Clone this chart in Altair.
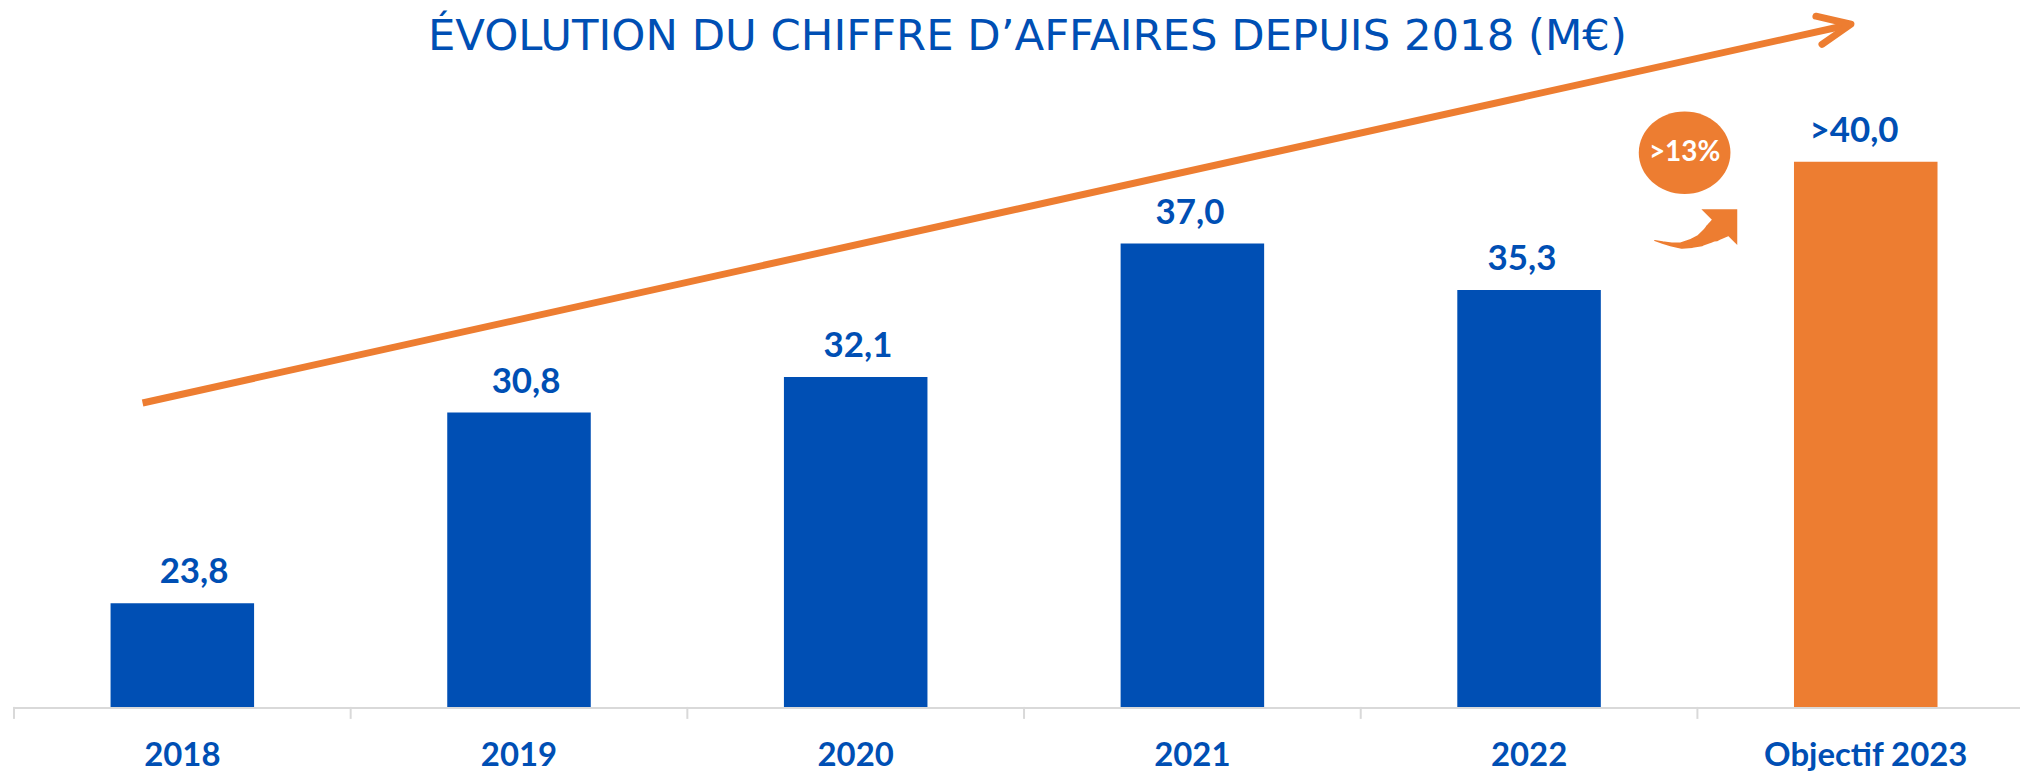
import altair as alt
import pandas as pd

# ---- data ----
years = ["2018", "2019", "2020", "2021", "2022", "Objectif 2023"]
values = [23.8, 30.8, 32.1, 37.0, 35.3, 40.0]
value_labels = ["23,8", "30,8", "32,1", "37,0", "35,3", ">40,0"]

# axis ticks sit between categories (category-index units)
tick_pos = [0, 1, 2, 3, 4, 5, 6]
axis_start = [0]
axis_end = [6.2]

# decorations, in (category index, M€) units
trend_x = [0.382, 5.44]
trend_y = [31.15, 45.0]
chevron_x = [5.352, 5.456, 5.370]
chevron_y = [45.34, 45.045, 44.31]
badge_x = [4.962]
badge_y = [40.33]
badge_text = [">13%"]
curve_x = [4.873, 4.896, 4.923, 4.953, 4.982, 5.009, 5.033, 5.050, 5.071]
curve_y = [37.111, 37.038, 36.965, 36.928, 37.002, 37.111, 37.294, 37.440, 37.623]
curve_w = [1, 2.5, 4, 6.5, 9, 12, 16, 20, 24]
head_x = [5.065]
head_y = [37.6]
title_x = [3.01]
TITLE = "ÉVOLUTION DU CHIFFRE D’AFFAIRES DEPUIS 2018 (M€)"

BLUE = "#004FB4"
ORANGE = "#ED7D31"
GREY = "#D9D9D9"

# ---- layout ----
STEP = 337.83          # px per category
PI = 0.5737            # band padding inner
PO = 0.245             # band padding outer
FIRST_TICK = 14        # page x of first tick
L_PAGE = FIRST_TICK + 0.5 * STEP - STEP * (PO + (1 - PI) / 2)
W = round(STEP * (6 - PI + 2 * PO), 2)
PAD_LEFT = round(L_PAGE - 8, 2)
D0 = (L_PAGE - FIRST_TICK) / STEP
D1 = D0 + W / STEP
H = 640
PAD_TOP = 60
TITLE_BASELINE_PAGE = 48.5

bars_df = pd.DataFrame({"year": years, "value": values, "label": value_labels,
                        "base": [20] * len(years)})
ticks_df = pd.DataFrame({"t": tick_pos})
axis_df = pd.DataFrame({"a": axis_start, "b": axis_end})
trend_df = pd.DataFrame({"x": trend_x, "y": trend_y})
chev_df = pd.DataFrame({"x": chevron_x, "y": chevron_y, "o": list(range(len(chevron_x)))})
badge_df = pd.DataFrame({"x": badge_x, "y": badge_y, "t": badge_text})
curve_df = pd.DataFrame({"x": curve_x, "y": curve_y, "w": curve_w})
head_df = pd.DataFrame({"x": head_x, "y": head_y})
title_df = pd.DataFrame({"x": title_x, "t": [TITLE]})

yscale = alt.Scale(domain=[20, 43.4], zero=False, nice=False)
band = alt.Scale(paddingInner=PI, paddingOuter=PO)
qx = alt.Scale(domain=[D0, D1], nice=False, zero=False)

bars = alt.Chart(bars_df).mark_bar().encode(
    x=alt.X("year:N", sort=years, scale=band, title=None,
            axis=alt.Axis(labelAngle=0, ticks=True, tickSize=12, tickOpacity=0,
                          domain=False,
                          labelFont="Lato", labelFontWeight="bold", labelFontSize=33,
                          labelColor=BLUE, labelBaseline="alphabetic", labelPadding=47,
                          labelLimit=0, grid=False)),
    y=alt.Y("value:Q", scale=yscale, axis=None),
    y2="base:Q",
    color=alt.condition(alt.datum.year == "Objectif 2023", alt.value(ORANGE), alt.value(BLUE)),
)

labels = alt.Chart(bars_df).mark_text(
    font="Lato", fontWeight="bold", fontSize=35, color=BLUE,
    baseline="alphabetic", dy=-20,
).encode(
    x=alt.X("year:N", sort=years, scale=band, axis=None),
    y=alt.Y("value:Q", scale=yscale, axis=None),
    text="label:N",
)

axis_line = alt.Chart(axis_df).mark_rule(color=GREY, strokeWidth=2).encode(
    x=alt.X("a:Q", scale=qx, axis=None),
    x2="b:Q",
    y=alt.value(H + 1),
)

ticks = alt.Chart(ticks_df).mark_rule(color=GREY, strokeWidth=2).encode(
    x=alt.X("t:Q", scale=qx, axis=None),
    y=alt.value(H),
    y2=alt.value(H + 12),
)

trend = alt.Chart(trend_df).mark_line(color=ORANGE, strokeWidth=7, strokeCap="butt").encode(
    x=alt.X("x:Q", scale=qx, axis=None),
    y=alt.Y("y:Q", scale=yscale, axis=None),
)

chevron = alt.Chart(chev_df).mark_line(color=ORANGE, strokeWidth=7, strokeCap="round",
                                       strokeJoin="round").encode(
    x=alt.X("x:Q", scale=qx, axis=None),
    y=alt.Y("y:Q", scale=yscale, axis=None),
    order="o:Q",
)

badge = alt.Chart(badge_df).mark_point(
    shape="M-1,0A1,0.9,0,1,1,1,0A1,0.9,0,1,1,-1,0Z",
    filled=True, color=ORANGE, opacity=1, size=8464, strokeWidth=0,
).encode(
    x=alt.X("x:Q", scale=qx, axis=None),
    y=alt.Y("y:Q", scale=yscale, axis=None),
)

badge_lbl = alt.Chart(badge_df).mark_text(
    font="Lato", fontWeight="bold", fontSize=28, color="white", baseline="middle",
).encode(
    x=alt.X("x:Q", scale=qx, axis=None),
    y=alt.Y("y:Q", scale=yscale, axis=None),
    text="t:N",
)

curve = alt.Chart(curve_df).mark_trail(color=ORANGE).encode(
    x=alt.X("x:Q", scale=qx, axis=None),
    y=alt.Y("y:Q", scale=yscale, axis=None),
    size=alt.Size("w:Q", scale=None, legend=None),
)

head = alt.Chart(head_df).mark_point(
    shape="M-1,-1L1,-1L1,1Z", filled=True, color=ORANGE, opacity=1, size=1296, strokeWidth=0,
).encode(
    x=alt.X("x:Q", scale=qx, axis=None),
    y=alt.Y("y:Q", scale=yscale, axis=None),
)

title = alt.Chart(title_df).mark_text(
    font="DejaVu Sans", fontSize=43.5, fontWeight="normal", color=BLUE,
    baseline="alphabetic", align="center",
).encode(
    x=alt.X("x:Q", scale=qx, axis=None),
    y=alt.value(TITLE_BASELINE_PAGE - 8 - PAD_TOP),
    text="t:N",
)

chart = alt.layer(
    bars, labels, axis_line, ticks, trend, chevron, curve, head, badge, badge_lbl, title
).resolve_scale(x="independent").properties(
    width=W,
    height=H,
    autosize=alt.AutoSizeParams(type="none"),
    padding={"left": PAD_LEFT, "top": PAD_TOP, "right": 0, "bottom": 64},
    background="white",
).configure_view(stroke=None)

chart.save("out.html", embed_options={"renderer": "svg", "actions": False})
